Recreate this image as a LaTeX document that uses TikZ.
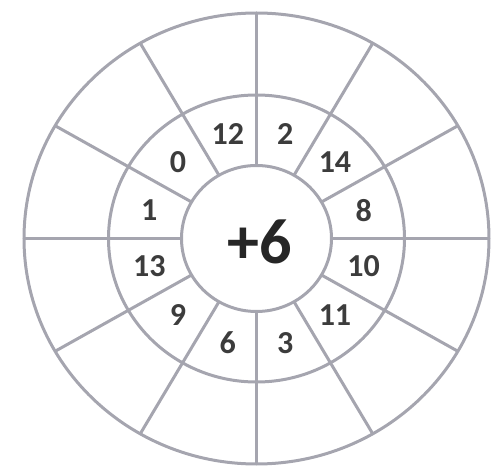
\documentclass[tikz,border=0pt]{standalone}
\usepackage{fontspec}
\setmainfont{Carlito}
\definecolor{trait}{RGB}{165,165,175}
\definecolor{chiffre}{RGB}{60,60,60}
\tikzset{
  ligne/.style={trait,line width=3pt},
  nombre/.style={chiffre,font=\bfseries\fontsize{32}{32}\selectfont,inner sep=0pt},
  somme/.style={black!85,font=\bfseries\fontsize{64}{64}\selectfont,inner sep=0pt}
}
\begin{document}
\begin{tikzpicture}[x=1pt,y=1pt]
    \useasboundingbox (-256.5,-232.5) rectangle (239.5,238.5);
    % Cercles
    \draw[ligne] (0,0) ellipse [x radius=232.5,y radius=225.5];
    \draw[ligne] (0,0) ellipse [x radius=148,y radius=143.5];
    \draw[ligne] (0,0) ellipse [x radius=75,y radius=73];

    % Rayons
    \foreach \a in {0,30,...,330}
        \draw[ligne] ({75*cos(\a)},{73*sin(\a)}) -- ({232.5*cos(\a)},{225.5*sin(\a)});

    % Nombres de la couronne
    \foreach \n [count=\i] in {8,14,2,12,0,1,13,9,6,3,11,10}
        \node[nombre] (n\i) at ({111*cos(30*\i-15)},{108*sin(30*\i-15)}) {\n};

    % Centre
    \node[somme] (centre) at (3,-3) {+6};
\end{tikzpicture}
\end{document}
